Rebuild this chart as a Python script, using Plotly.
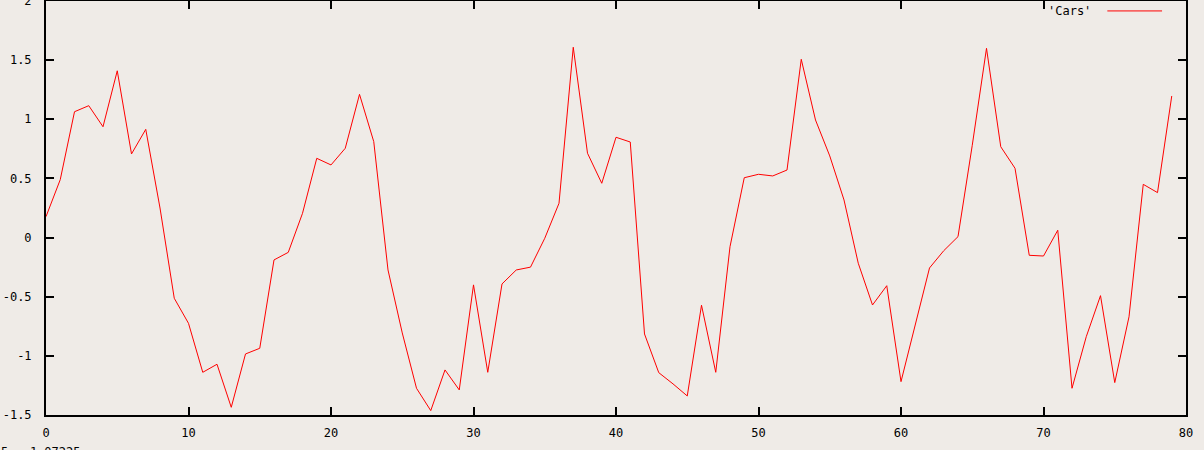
import plotly.graph_objects as go

x_vals = list(range(80))
cars = [0.177, 0.49, 1.064, 1.115, 0.937, 1.41, 0.707, 0.915, 0.25, -0.513,
        -0.725, -1.139, -1.071, -1.435, -0.984, -0.936, -0.189, -0.125, 0.205, 0.67,
        0.614, 0.755, 1.211, 0.811, -0.274, -0.806, -1.274, -1.463, -1.119, -1.288,
        -0.40, -1.139, -0.392, -0.274, -0.25, -0.006, 0.29, 1.609, 0.713, 0.459,
        0.848, 0.808, -0.815, -1.142, -1.237, -1.339, -0.572, -1.139, -0.077, 0.506,
        0.535, 0.521, 0.571, 1.507, 0.994, 0.69, 0.318, -0.217, -0.57, -0.407,
        -1.218, -0.725, -0.257, -0.111, 0.008, 0.78, 1.6, 0.768, 0.586, -0.15,
        -0.156, 0.062, -1.274, -0.838, -0.491, -1.226, -0.67, 0.45, 0.38, 1.197]

x_ticks = [0, 10, 20, 30, 40, 50, 60, 70, 80]
y_ticks = [-1.5, -1, -0.5, 0, 0.5, 1, 1.5, 2]
y_tick_text = ["-1.5", "-1", "-0.5", "0", "0.5", "1", "1.5", "2"]
series_name = "'Cars'"
status_text = "5, -1.07225"

bg = "#efebe7"
font = dict(family="DejaVu Sans Mono", size=12, color="black")

fig = go.Figure()
fig.add_trace(go.Scatter(x=x_vals, y=cars, mode="lines", name=series_name,
                         line=dict(color="#ff0000", width=1), showlegend=False,
                         cliponaxis=False, hoverinfo="skip"))

axis_common = dict(showgrid=False, zeroline=False, showline=True, linecolor="black",
                   linewidth=2, mirror="allticks", ticks="inside", ticklen=8,
                   tickwidth=2, tickcolor="black", tickfont=font, automargin=False,
                   ticklabeloverflow="allow")

fig.update_xaxes(range=[0, 80], tickvals=x_ticks, ticktext=[str(v) for v in x_ticks],
                 ticklabelstandoff=6, **axis_common)
fig.update_yaxes(range=[-1.5, 2], tickvals=y_ticks, ticktext=y_tick_text,
                 ticklabelstandoff=10, **axis_common)

# legend (gnuplot style: text then line sample)
fig.add_annotation(text=series_name, xref="paper", yref="paper", x=0.918, y=0.976,
                   xanchor="right", yanchor="middle", showarrow=False, font=font)
fig.add_shape(type="line", xref="paper", yref="paper", x0=0.931, x1=0.979,
              y0=0.976, y1=0.976, line=dict(color="#ff0000", width=1))

# status line at bottom (partly cut off, as in the reference)
fig.add_annotation(text=status_text, xref="paper", yref="paper", x=-0.041, y=-0.068,
                   xanchor="left", yanchor="top", showarrow=False, font=font)

fig.update_layout(width=1204, height=450, paper_bgcolor=bg, plot_bgcolor=bg,
                  margin=dict(l=46, r=18, t=1, b=35, autoexpand=False), font=font,
                  hovermode=False)

fig.write_html("out.html", config={"displayModeBar": False, "staticPlot": True},
               post_script="document.body.style.margin='0';document.body.style.overflow='hidden';")
